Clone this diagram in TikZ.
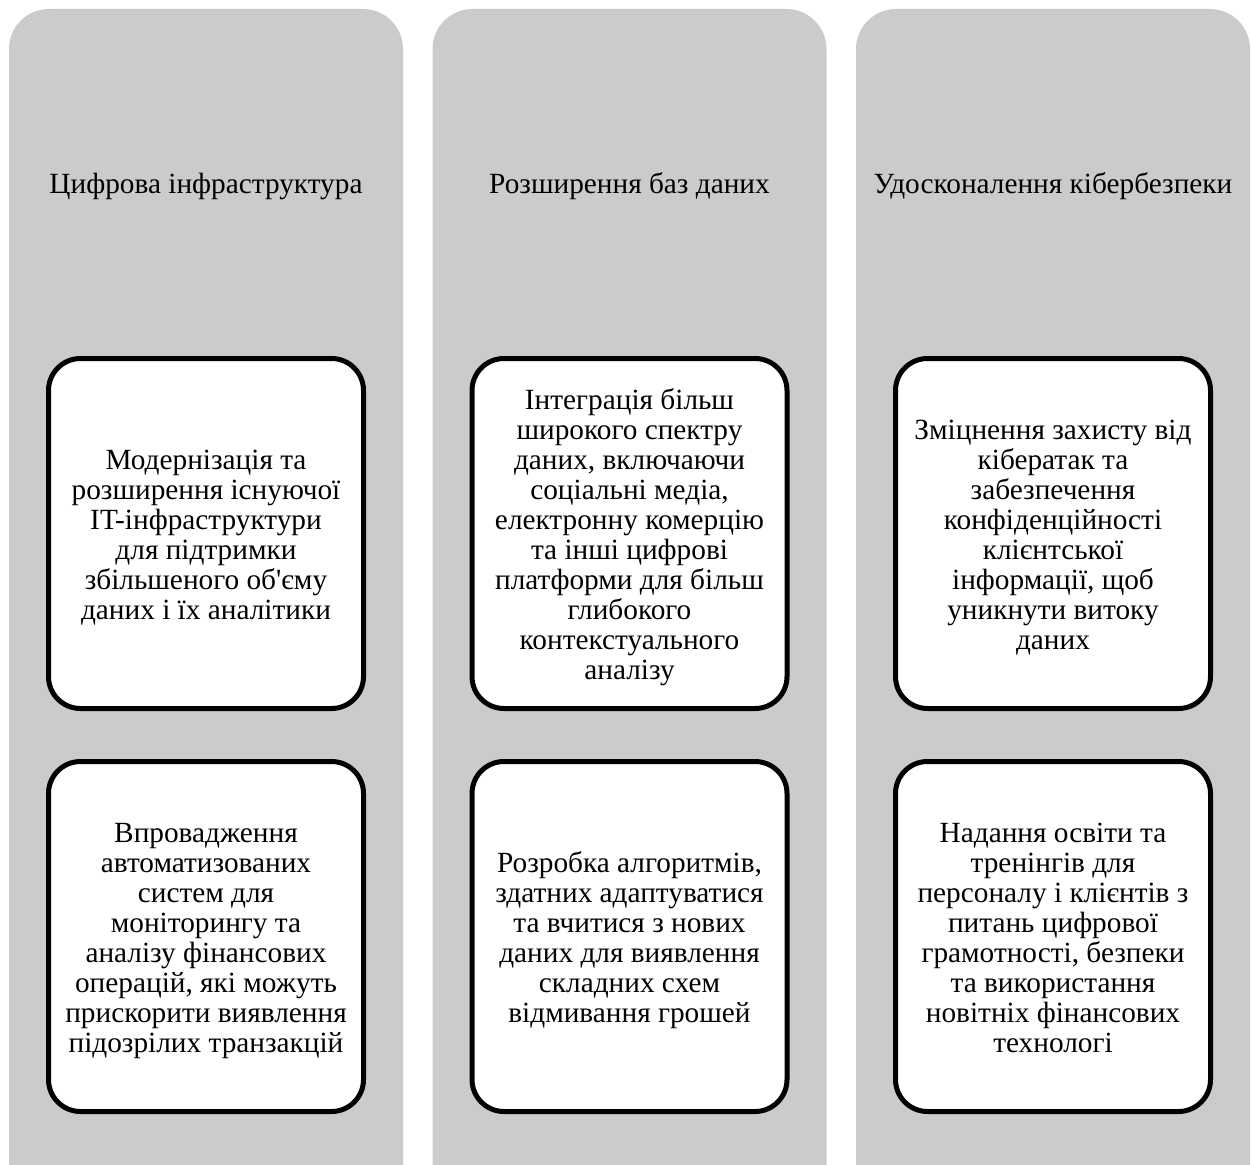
\documentclass[tikz,border=0pt]{standalone}
\usepackage{fontspec}
\setmainfont{Liberation Serif}
\newfontfamily\boxfont{Liberation Serif}[Ligatures=TeXOff]
\definecolor{colgray}{RGB}{203,203,203}
\tikzset{
  column/.style={fill=colgray, rounded corners=40pt},
  header/.style={font=\boxfont\fontsize{29.3}{30}\selectfont, align=center},
  itembox/.style={draw=black, fill=white, line width=5pt, rounded corners=32pt,
    minimum width=315pt, minimum height=350pt, text width=305pt, align=flush center,
    font=\boxfont\fontsize{29.3}{30}\selectfont, inner sep=0pt,
    % uniform first-line ascent and last-line descent for every box
    execute at begin node={\rule{0pt}{29pt}},
    execute at end node={\rule[-7pt]{0pt}{7pt}}},
}
\begin{document}
\begin{tikzpicture}[x=1pt,y=-1pt]
\useasboundingbox (0,0) rectangle (1252,1164);
\begin{scope}
  \clip (0,0) rectangle (1252,1164);
  \fill[column] (9,9) rectangle (403,1210);
  \fill[column] (432.5,9) rectangle (826.5,1210);
  \fill[column] (856,9) rectangle (1250,1210);
\end{scope}

% column headers
\node[header] (h1) at (206,186.5) {Цифрова інфраструктура};
\node[header] (h2) at (629.5,186.5) {Розширення баз даних};
\node[header] (h3) at (1053,186.5) {Удосконалення кібербезпеки};

% first column
\node[itembox] (a1) at (206,533.5) {Модернізація та\\розширення існуючої\\IT-інфраструктури\\для підтримки\\збільшеного об'єму\\даних і їх аналітики};
\node[itembox] (a2) at (206,936.5) {Впровадження\\автоматизованих\\систем для\\моніторингу та\\аналізу фінансових\\операцій, які можуть\\прискорити виявлення\\підозрілих транзакцій};

% second column
\node[itembox] (b1) at (629.5,533.5) {Інтеграція більш\\широкого спектру\\даних, включаючи\\соціальні медіа,\\електронну комерцію\\та інші цифрові\\платформи для більш\\глибокого\\контекстуального\\аналізу};
\node[itembox] (b2) at (629.5,936.5) {Розробка алгоритмів,\\здатних адаптуватися\\та вчитися з нових\\даних для виявлення\\складних схем\\відмивання грошей};

% third column
\node[itembox] (c1) at (1053,533.5) {Зміцнення захисту від\\кібератак та\\забезпечення\\конфіденційності\\клієнтської\\інформації, щоб\\уникнути витоку\\даних};
\node[itembox] (c2) at (1053,936.5) {Надання освіти та\\тренінгів для\\персоналу і клієнтів з\\питань цифрової\\грамотності, безпеки\\та використання\\новітніх фінансових\\технологі};
\end{tikzpicture}
\end{document}
